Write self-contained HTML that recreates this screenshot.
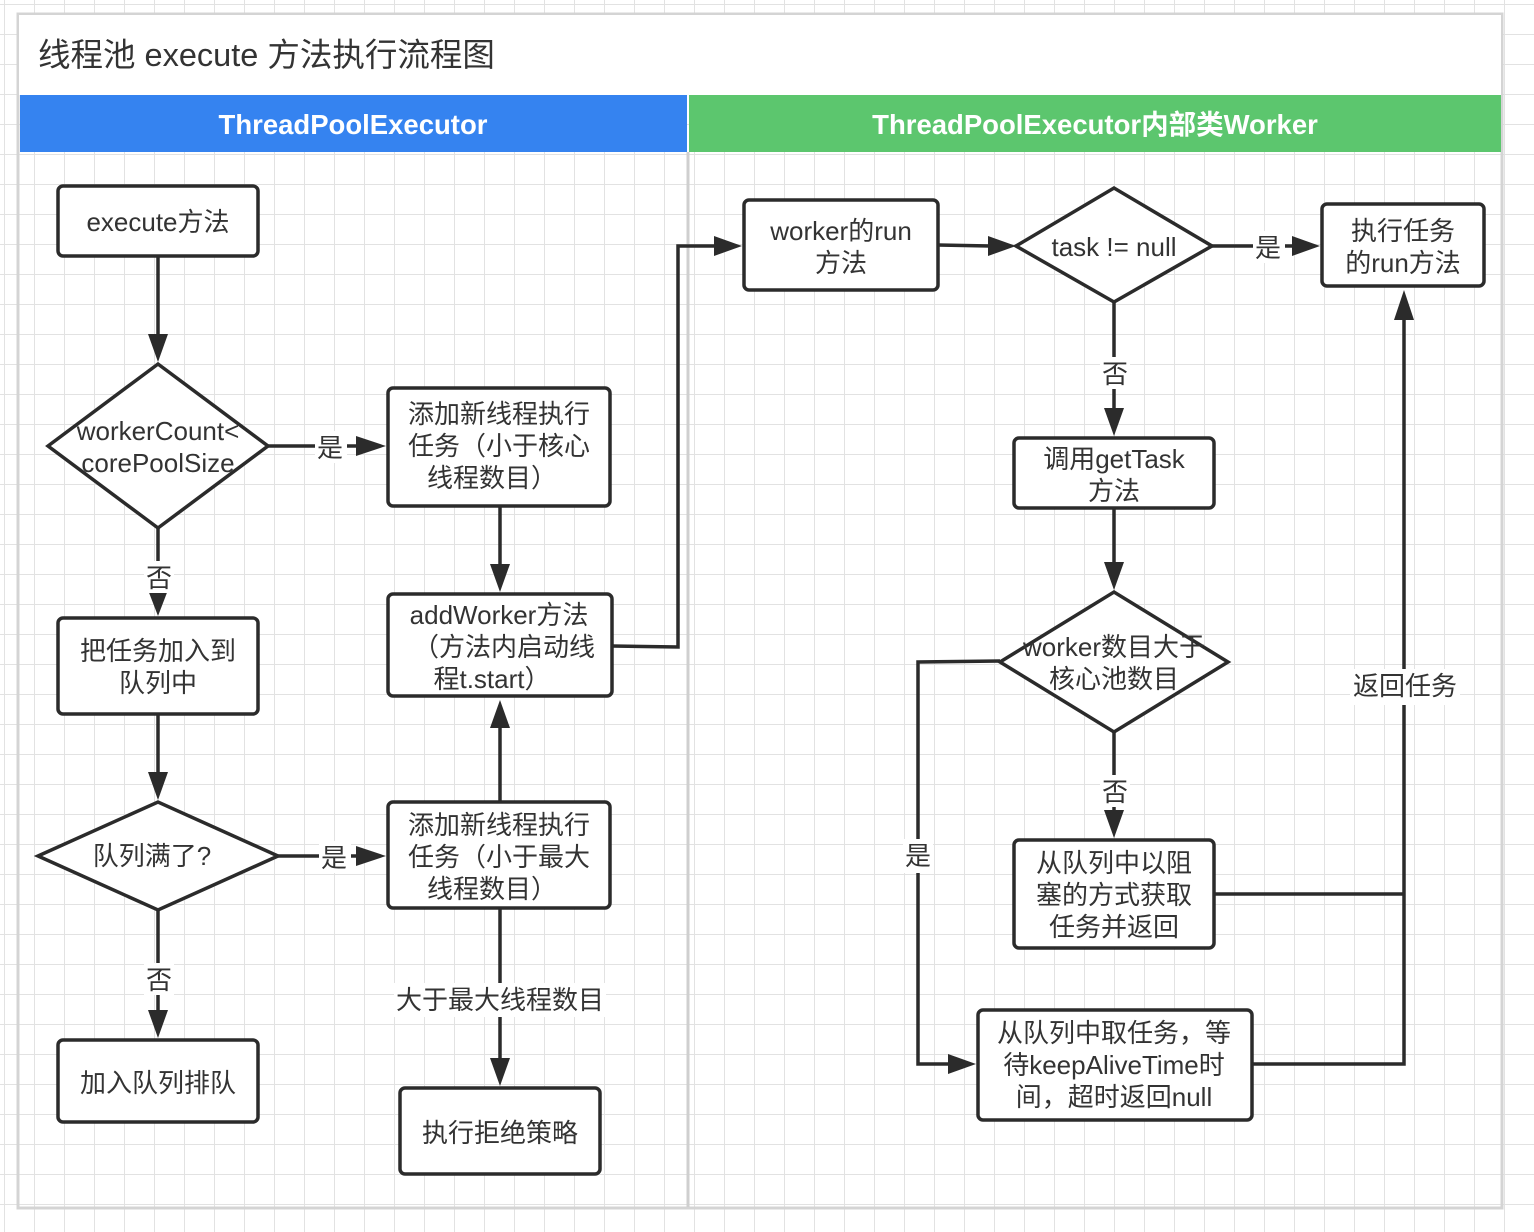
<!DOCTYPE html>
<html><head><meta charset="utf-8"><style>
html,body{margin:0;padding:0;background:#fff;}
svg{display:block;font-family:"Liberation Sans","Noto Sans CJK SC",sans-serif;}
</style></head><body>
<svg width="1534" height="1232" viewBox="0 0 1534 1232" xmlns="http://www.w3.org/2000/svg">
<defs>
<pattern id="g" width="30" height="30" patternUnits="userSpaceOnUse" x="5" y="5">
<path d="M30 0V30M0 30H30" fill="none" stroke="#e2e2e2" stroke-width="2"/>
</pattern>
</defs>
<rect width="1534" height="1232" fill="#fff"/>
<rect width="1534" height="1232" fill="url(#g)"/>
<rect x="18" y="14" width="1484" height="1194" fill="none" stroke="#d4d4d4" stroke-width="3"/>
<rect x="19" y="15" width="1482" height="80" fill="#fff"/>
<text x="38" y="66" font-size="32.5" fill="#333">线程池 execute 方法执行流程图</text>
<rect x="20" y="95" width="667" height="57" fill="#3583f0"/>
<rect x="689" y="95" width="812" height="57" fill="#5cc66e"/>
<text x="353" y="134" font-size="27.5" font-weight="bold" fill="#fff" text-anchor="middle">ThreadPoolExecutor</text>
<text x="1095" y="134" font-size="27.5" font-weight="bold" fill="#fff" text-anchor="middle">ThreadPoolExecutor内部类Worker</text>
<line x1="688" y1="152" x2="688" y2="1207" stroke="#cfcfcf" stroke-width="3"/>

<g fill="#fff" stroke="#2b2b2b" stroke-width="3.5">
<rect x="58" y="186" width="200" height="70" rx="5"/>
<polygon points="48,446 158,364 268,446 158,528"/>
<rect x="388" y="388" width="222" height="118" rx="5"/>
<rect x="388" y="594" width="224" height="102" rx="5"/>
<rect x="58" y="618" width="200" height="96" rx="5"/>
<polygon points="38,856 158,802 278,856 158,910"/>
<rect x="388" y="802" width="222" height="106" rx="5"/>
<rect x="58" y="1040" width="200" height="82" rx="5"/>
<rect x="400" y="1088" width="200" height="86" rx="5"/>
<rect x="744" y="200" width="194" height="90" rx="5"/>
<polygon points="1016,246 1114,188 1212,246 1114,302"/>
<rect x="1322" y="204" width="162" height="82" rx="5"/>
<rect x="1014" y="438" width="200" height="70" rx="5"/>
<polygon points="1000,662 1114,592 1228,662 1114,732"/>
<rect x="1014" y="840" width="200" height="108" rx="5"/>
<rect x="978" y="1010" width="274" height="110" rx="5"/>
</g>

<g fill="none" stroke="#2b2b2b" stroke-width="3.5">
<path d="M158 256V336"/>
<path d="M268 446H358"/>
<path d="M500 506V566"/>
<path d="M158 528V592"/>
<path d="M158 714V774"/>
<path d="M278 856H358"/>
<path d="M158 910V1012"/>
<path d="M500 908V1060"/>
<path d="M500 802V726"/>
<path d="M612 646L678 647V246H716"/>
<path d="M938 245L990 246"/>
<path d="M1212 246H1294"/>
<path d="M1114 302V410"/>
<path d="M1114 508V564"/>
<path d="M1114 732V812"/>
<path d="M1000 661L918 662V1064H950"/>
<path d="M1214 894H1404"/>
<path d="M1252 1064H1404V318"/>
</g>
<g fill="#2b2b2b">
<polygon points="148,334 168,334 158,362"/>
<polygon points="356,436 356,456 386,446"/>
<polygon points="490,564 510,564 500,592"/>
<polygon points="148,590 168,590 158,616"/>
<polygon points="148,772 168,772 158,800"/>
<polygon points="356,846 356,866 386,856"/>
<polygon points="148,1010 168,1010 158,1038"/>
<polygon points="490,1058 510,1058 500,1086"/>
<polygon points="490,728 510,728 500,700"/>
<polygon points="714,236 714,256 742,246"/>
<polygon points="988,236 988,256 1016,246"/>
<polygon points="1292,236 1292,256 1320,246"/>
<polygon points="1104,408 1124,408 1114,436"/>
<polygon points="1104,562 1124,562 1114,590"/>
<polygon points="1104,810 1124,810 1114,838"/>
<polygon points="948,1054 948,1074 976,1064"/>
<polygon points="1394,320 1414,320 1404,290"/>
</g>

<g font-size="26" fill="#333" text-anchor="middle">
<rect x="315" y="431" width="32" height="32" fill="#fff"/>
<text x="330" y="457">是</text>
<rect x="319" y="841" width="32" height="32" fill="#fff"/>
<text x="334" y="867">是</text>
<rect x="1253" y="231" width="32" height="32" fill="#fff"/>
<text x="1268" y="257">是</text>
<rect x="144" y="561" width="30" height="32" fill="#fff"/>
<text x="159" y="587">否</text>
<rect x="144" y="963" width="30" height="32" fill="#fff"/>
<text x="159" y="989">否</text>
<rect x="1100" y="357" width="30" height="32" fill="#fff"/>
<text x="1115" y="383">否</text>
<rect x="1100" y="775" width="30" height="32" fill="#fff"/>
<text x="1115" y="801">否</text>
<rect x="903" y="839" width="30" height="34" fill="#fff"/>
<text x="918" y="865">是</text>
<rect x="394" y="983" width="212" height="34" fill="#fff"/>
<text x="500" y="1009">大于最大线程数目</text>
<rect x="1350" y="669" width="110" height="36" fill="#fff"/>
<text x="1405" y="695">返回任务</text>

<text x="158" y="231">execute方法</text>
<text x="158" y="440">workerCount&lt;</text>
<text x="158" y="472">corePoolSize</text>
<text x="499" y="423">添加新线程执行</text>
<text x="499" y="455">任务（小于核心</text>
<text x="492" y="487">线程数目）</text>
<text x="499" y="624">addWorker方法</text>
<text x="504" y="656">（方法内启动线</text>
<text x="492" y="688">程t.start）</text>
<text x="158" y="660">把任务加入到</text>
<text x="158" y="692">队列中</text>
<text x="152" y="865">队列满了?</text>
<text x="499" y="834">添加新线程执行</text>
<text x="499" y="866">任务（小于最大</text>
<text x="492" y="898">线程数目）</text>
<text x="158" y="1092">加入队列排队</text>
<text x="500" y="1142">执行拒绝策略</text>
<text x="841" y="240">worker的run</text>
<text x="841" y="272">方法</text>
<text x="1114" y="256">task != null</text>
<text x="1403" y="240">执行任务</text>
<text x="1403" y="272">的run方法</text>
<text x="1114" y="468">调用getTask</text>
<text x="1114" y="500">方法</text>
<text x="1114" y="656">worker数目大于</text>
<text x="1114" y="688">核心池数目</text>
<text x="1114" y="872">从队列中以阻</text>
<text x="1114" y="904">塞的方式获取</text>
<text x="1114" y="936">任务并返回</text>
<text x="1114" y="1042">从队列中取任务，等</text>
<text x="1114" y="1074">待keepAliveTime时</text>
<text x="1114" y="1106">间，超时返回null</text>
</g>
</svg>
</body></html>
